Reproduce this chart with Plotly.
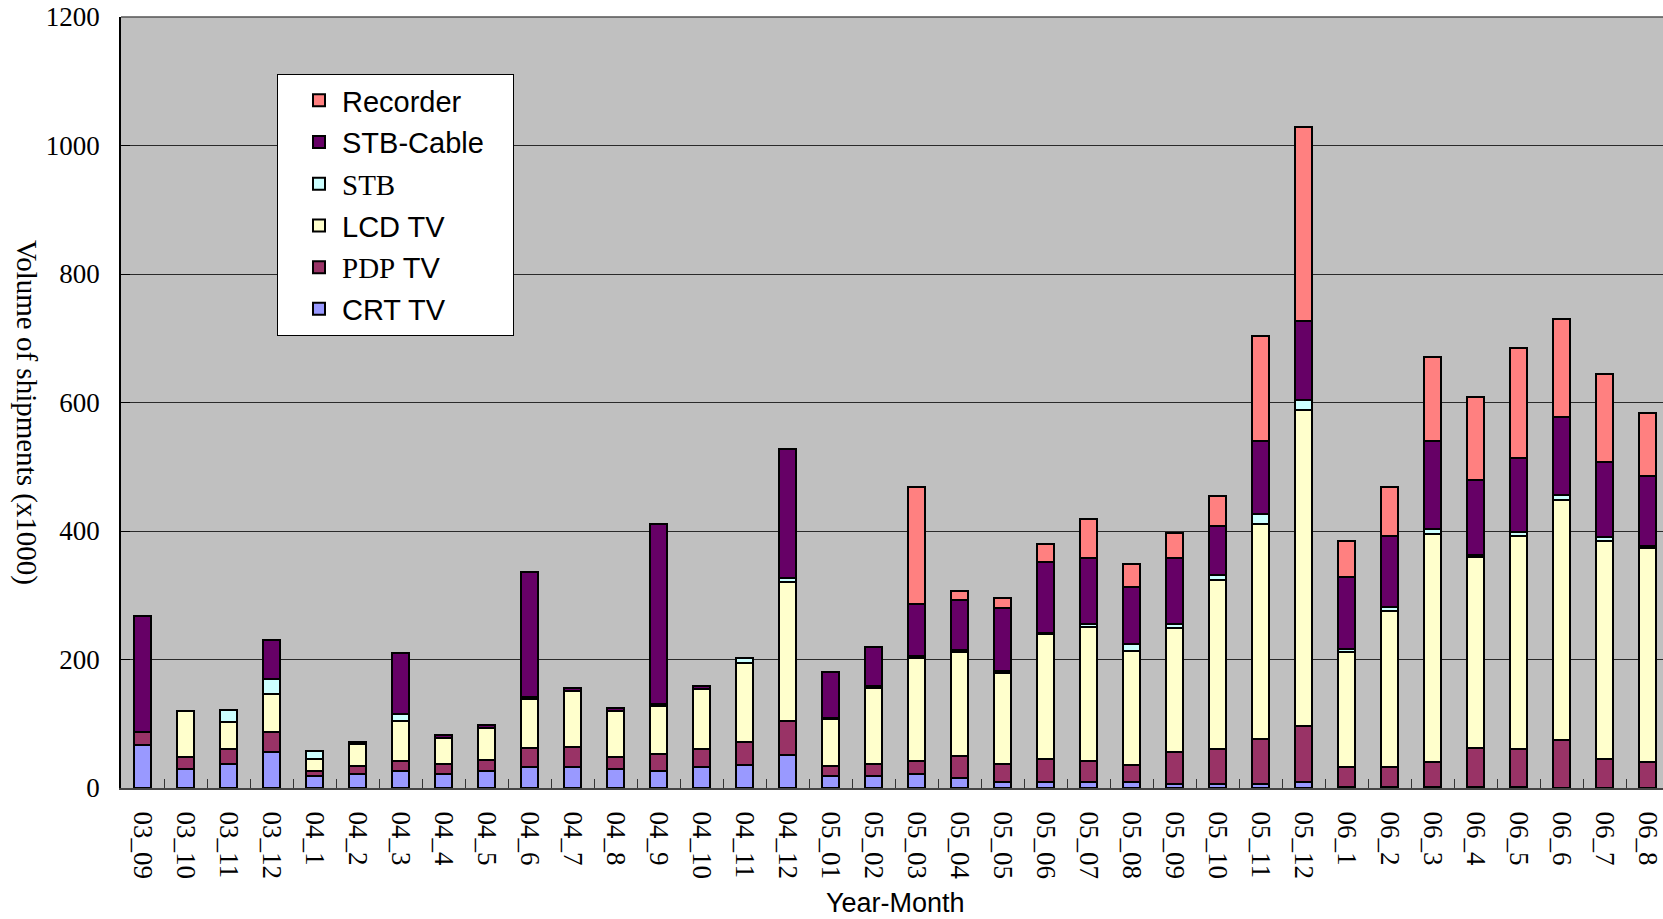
import plotly.graph_objects as go

categories = ["03_09", "03_10", "03_11", "03_12",
              "04_1", "04_2", "04_3", "04_4", "04_5", "04_6", "04_7", "04_8", "04_9",
              "04_10", "04_11", "04_12",
              "05_01", "05_02", "05_03", "05_04", "05_05", "05_06", "05_07", "05_08",
              "05_09", "05_10", "05_11", "05_12",
              "06_1", "06_2", "06_3", "06_4", "06_5", "06_6", "06_7", "06_8"]

crt_tv = [67, 30, 37, 56, 18, 22, 26, 22, 26, 33, 33, 30, 26, 33, 36, 52,
          18, 18, 22, 15, 10, 10, 10, 9, 6, 6, 7, 9,
          2, 2, 2, 2, 2, 0, 0, 0]
pdp_tv = [20, 18, 23, 31, 9, 12, 16, 15, 18, 30, 31, 18, 27, 27, 36, 53,
          16, 19, 20, 35, 27, 35, 32, 27, 50, 54, 69, 88,
          31, 31, 39, 61, 58, 75, 45, 41]
lcd_tv = [0, 72, 43, 60, 18, 34, 63, 41, 50, 75, 87, 72, 75, 94, 123, 216,
          73, 118, 160, 162, 142, 194, 208, 178, 193, 264, 335, 491,
          178, 243, 355, 296, 332, 374, 339, 332]
stb = [0, 0, 18, 22, 12, 0, 10, 0, 0, 3, 0, 0, 3, 0, 8, 6,
       2, 3, 3, 3, 3, 3, 5, 10, 6, 7, 15, 16,
       6, 6, 7, 3, 6, 7, 7, 3]
stb_cable = [181, 0, 0, 62, 0, 4, 95, 5, 4, 195, 4, 4, 280, 4, 0, 200,
             72, 61, 82, 77, 98, 110, 103, 89, 103, 77, 114, 123,
             111, 110, 137, 117, 115, 121, 116, 110]
recorder = [0, 0, 0, 0, 0, 0, 0, 0, 0, 0, 0, 0, 0, 0, 0, 0,
            0, 0, 181, 15, 15, 27, 61, 35, 39, 46, 164, 302,
            57, 76, 131, 130, 172, 153, 137, 97]

SERIF = "Liberation Serif"
SANS = "Liberation Sans"

series = [
    ("CRT TV", crt_tv, "#9999FF"),
    ('<span style="font-family:Liberation Serif">PDP</span> TV', pdp_tv, "#993366"),
    ("LCD TV", lcd_tv, "#FFFFCC"),
    ('<span style="font-family:Liberation Serif">STB</span>', stb, "#CCFFFF"),
    ("STB-Cable&nbsp;&nbsp;&nbsp;", stb_cable, "#660066"),
    ("Recorder", recorder, "#FF8080"),
]

fig = go.Figure()
n = len(series)
for i, (name, vals, color) in enumerate(series):
    fig.add_trace(go.Bar(
        x=categories, y=vals, name=name, legendgroup=str(i),
        legendrank=n - i,
        marker=dict(color=color, line=dict(color="black", width=2)),
        width=0.38,
    ))

fig.update_layout(
    barmode="stack",
    width=1663, height=919,
    margin=dict(l=121, r=0, t=17, b=131),
    paper_bgcolor="white",
    plot_bgcolor="#C0C0C0",
    showlegend=True,
    legend=dict(
        x=(277 - 121) / 1542, y=(788 - 74) / 771,
        xanchor="left", yanchor="top",
        bgcolor="white", bordercolor="black", borderwidth=1,
        font=dict(family=SANS, size=29, color="black"),
        traceorder="grouped", tracegroupgap=1,
        indentation=18, itemwidth=36,
    ),
    xaxis=dict(
        type="category", range=[-0.5, 35.36],
        tickangle=90, ticks="inside", tickson="boundaries", ticklen=9,
        tickcolor="#333", tickwidth=1,
        tickfont=dict(family=SERIF, size=27, color="black"),
        showline=True, linecolor="#444", linewidth=2,
        showgrid=False, ticklabelstandoff=16,
    ),
    yaxis=dict(
        range=[0, 1200], dtick=200, tick0=0,
        ticks="inside", ticklen=9, tickcolor="black",
        tickfont=dict(family=SERIF, size=27, color="black"),
        showline=True, linecolor="black", linewidth=1.5,
        showgrid=True, gridcolor="#2a2a2a", gridwidth=1,
        ticklabelstandoff=14, zeroline=False,
    ),
    shapes=[dict(type="line", xref="paper", yref="paper", x0=0, x1=1, y0=1, y1=1,
                 line=dict(color="#555555", width=1.5))],
    annotations=[
        dict(text="Volume of shipments (x1000)", textangle=90,
             xref="paper", yref="paper", xanchor="center", yanchor="middle",
             x=(26 - 121) / 1542, y=(788 - 412) / 771,
             showarrow=False, font=dict(family=SERIF, size=29, color="black")),
        dict(text="Year-Month",
             xref="paper", yref="paper", xanchor="center", yanchor="middle",
             x=(895 - 121) / 1542, y=(788 - 903) / 771,
             showarrow=False, font=dict(family=SANS, size=27, color="black")),
    ],
)

fig.write_html("out.html",
               config={"displayModeBar": False},
               post_script="document.body.style.margin='0';document.body.style.overflow='hidden';")
